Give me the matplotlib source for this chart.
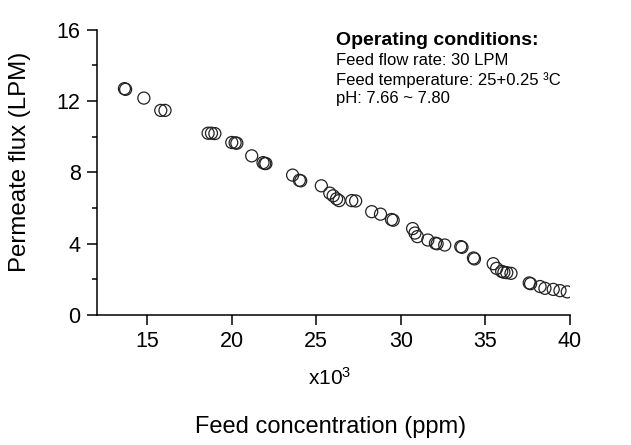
import matplotlib
matplotlib.use("Agg")
import matplotlib.pyplot as plt
from matplotlib.ticker import MultipleLocator

plt.rcParams['font.family'] = ['Liberation Sans', 'DejaVu Sans']
plt.rcParams['mathtext.default'] = 'regular'

# feed concentration (x10^3 ppm) and permeate flux (LPM)
conc = [13.65, 13.72, 14.8, 15.8, 16.05, 18.6, 18.8, 19.0, 20.0, 20.2, 20.3,
        21.18, 21.85, 21.95, 22.02, 23.6, 24.0, 24.08, 25.3, 25.8, 26.0, 26.2,
        26.35, 27.1, 27.33, 28.28, 28.8, 29.45, 29.55, 30.7, 30.84, 30.98,
        31.6, 32.05, 32.15, 32.6, 33.55, 33.62, 34.3, 34.36, 35.47, 35.67,
        35.97, 36.1, 36.27, 36.52, 37.6, 37.68, 38.24, 38.53, 39.02, 39.42, 39.85]
flux = [12.70, 12.66, 12.17, 11.48, 11.48, 10.2, 10.2, 10.18, 9.68, 9.66, 9.64,
        8.93, 8.55, 8.5, 8.5, 7.85, 7.56, 7.53, 7.25, 6.84, 6.69, 6.52,
        6.42, 6.42, 6.4, 5.8, 5.66, 5.36, 5.32, 4.85, 4.6, 4.4,
        4.21, 4.03, 4.0, 3.93, 3.84, 3.8, 3.2, 3.15, 2.88, 2.62,
        2.45, 2.4, 2.38, 2.34, 1.8, 1.76, 1.6, 1.5, 1.44, 1.37, 1.3]

title = "Operating conditions:"
notes = ["Feed flow rate: 30 LPM",
         "Feed temperature: 25+0.25 \u00b3C",
         "pH: 7.66 ~ 7.80"]

fig = plt.figure(figsize=(6.31, 4.45), dpi=100)
ax = fig.add_axes([0.153, 0.292, 0.750, 0.641])

ax.scatter(conc, flux, s=75, facecolors='none', edgecolors='#222222',
           linewidths=0.9, zorder=3)

ax.set_xlim(12, 40)
ax.set_ylim(0, 16)
ax.set_xticks([15, 20, 25, 30, 35, 40])
ax.set_yticks([0, 4, 8, 12, 16])
ax.yaxis.set_minor_locator(MultipleLocator(2))

for side in ['top', 'right']:
    ax.spines[side].set_visible(False)
for side in ['left', 'bottom']:
    ax.spines[side].set_linewidth(1.1)

ax.tick_params(axis='both', which='major', direction='out', length=7.5,
               width=1.1, labelsize=15.5, pad=4)
ax.tick_params(axis='y', which='minor', direction='out', length=3.6, width=1.1)

fig.text(20 / 631, 1 - 162 / 445, "Permeate flux (LPM)", fontsize=17.3,
         rotation=90, ha='center', va='center')

fig.text(0.523, 0.135, r"x10$^3$", fontsize=15, ha='center', va='baseline')
fig.text(0.5246, 0.027, "Feed concentration (ppm)", fontsize=17,
         ha='center', va='baseline')

# annotation block
fig.text(0.532, 0.908, title, fontsize=14, fontweight='bold',
         ha='left', va='center')
for i, line in enumerate(notes):
    fig.text(0.532, 0.863 - i * 0.0427, line, fontsize=12,
             ha='left', va='center')

fig.savefig("out.png", dpi=100)
